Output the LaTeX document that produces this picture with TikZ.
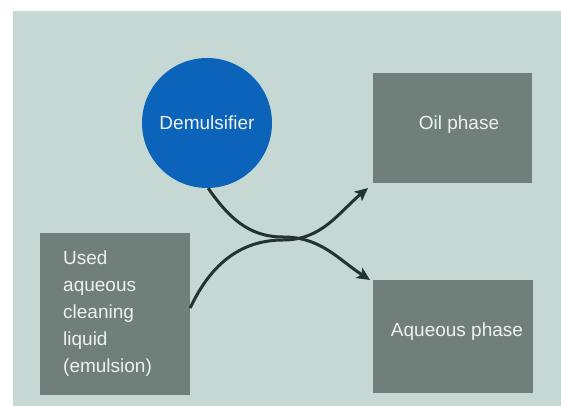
\documentclass[tikz,border=0pt]{standalone}
\usepackage{fontspec}
\setmainfont{Liberation Sans}
\usetikzlibrary{arrows.meta}
\definecolor{bgteal}{RGB}{197,216,212}
\definecolor{boxgrey}{RGB}{113,127,123}
\definecolor{demblue}{RGB}{12,100,186}
\definecolor{arrowdark}{RGB}{36,50,50}
\definecolor{txtlight}{RGB}{236,241,240}
\tikzset{
  phasebox/.style={fill=boxgrey, draw=none, inner sep=0pt, text=txtlight,
    font=\fontsize{19}{27}\selectfont},
  flow/.style={draw=arrowdark, line width=3pt,
    -{Stealth[length=13pt,width=12pt,inset=3pt]}},
}
\begin{document}
\begin{tikzpicture}[x=1pt,y=1pt]
\useasboundingbox (0,0) rectangle (561,406);
\fill[white] (0,0) rectangle (561,406);
\fill[bgteal] (13,0) rectangle (561,395);

\node[phasebox, minimum width=159pt, minimum height=110pt] (oil) at (452.5,278) {};
\node[text=txtlight, font=\fontsize{19}{27}\selectfont] (oiltxt) at (459,281) {Oil phase};

\node[phasebox, minimum width=160pt, minimum height=113pt] (aq) at (453,69.5) {};
\node[text=txtlight, font=\fontsize{19}{27}\selectfont] (aqtxt) at (457,74) {Aqueous phase};

\node[phasebox, minimum width=150pt, minimum height=162pt] (used) at (115,92) {};
\node[text=txtlight, font=\fontsize{19}{27}\selectfont, align=left, anchor=west, inner sep=0pt] (usedtxt) at (63,92)
  {Used\\aqueous\\cleaning\\liquid\\(emulsion)};

\node[circle, fill=demblue, minimum size=130pt, inner sep=0pt, text=txtlight,
  font=\fontsize{19}{27}\selectfont] (dem) at (207,283) {Demulsifier};

\coordinate (jA) at (283,169);
\coordinate (jB) at (283,166);
\coordinate (tipA) at (370,126);
\coordinate (tipB) at (368,218);

\draw[flow] (dem.-89) to[out=-55,in=180] (jA) to[out=0,in=147] (tipA);
\draw[flow] (used.east |- 0,98) to[out=65,in=180] (jB) to[out=0,in=-140] (tipB);
\end{tikzpicture}
\end{document}
